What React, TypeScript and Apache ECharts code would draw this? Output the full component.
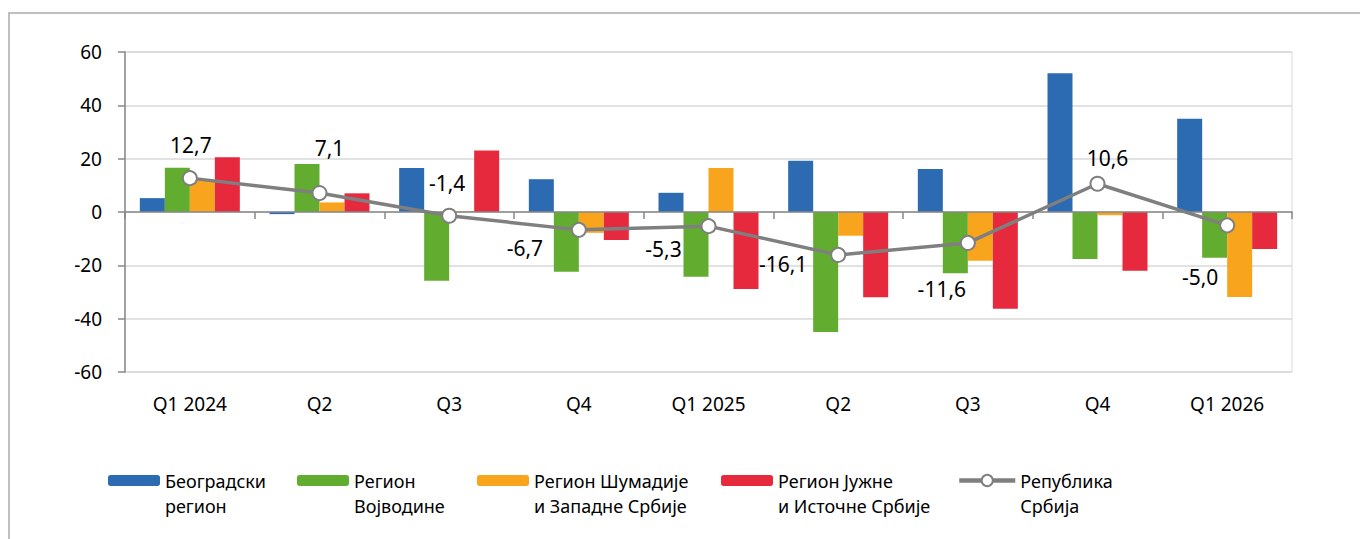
import React, { useEffect, useRef } from "react";
import * as echarts from "echarts";

const categories = ["Q1 2024", "Q2", "Q3", "Q4", "Q1 2025", "Q2", "Q3", "Q4", "Q1 2026"];
const seriesNames = [
  "Београдски регион",
  "Регион Војводине",
  "Регион Шумадије и Западне Србије",
  "Регион Јужне и Источне Србије",
  "Република Србија",
];
const legendLabels = [
  "Београдски\nрегион",
  "Регион\nВојводине",
  "Регион Шумадије\nи Западне Србије",
  "Регион Јужне\nи Источне Србије",
  "Република\nСрбија",
];
const belgrade = [5.2, -0.8, 16.5, 12.3, 7.2, 19.2, 16.1, 52.0, 35.0];
const vojvodina = [16.6, 18.0, -25.8, -22.4, -24.3, -45.0, -23.0, -17.6, -17.2];
const sumadija = [12.0, 3.6, 0.3, -7.8, 16.5, -8.9, -18.3, -1.2, -31.9];
const juzna = [20.5, 7.0, 23.1, -10.5, -28.9, -32.0, -36.3, -22.0, -13.9];
const serbia = [12.7, 7.1, -1.4, -6.7, -5.3, -16.1, -11.6, 10.6, -5.0];
const yTicks = { min: -60, max: 60, interval: 20 };

// label placement offsets (style, not data)
const labelOffsets: [number, number][] = [
  [1, -33], [10, -45], [-2, -33], [-54, 18], [-45, 23], [-55, 9], [-26, 46], [10, -26], [-27, 52],
];
const barColors = ["#2C6BB2", "#62AD2F", "#F8A51D", "#E6293D"];
const lineColor = "#7F7F7F";
const legendLefts = [108, 297, 477, 721, 957];
const FONT = "'Noto Sans', 'DejaVu Sans', sans-serif";

export default function App() {
  const ref = useRef<HTMLDivElement>(null);
  useEffect(() => {
    if (!ref.current) return;
    const chart = echarts.init(ref.current, undefined, { renderer: "svg" });
    const barData = [belgrade, vojvodina, sumadija, juzna];
    const bars = barData.map((d, i) => ({
      name: seriesNames[i],
      type: "bar",
      xAxisIndex: 0,
      data: d,
      barWidth: 25,
      barGap: "0%",
      itemStyle: { color: barColors[i] },
      z: 2,
    }));
    const line = {
      name: seriesNames[4],
      type: "line",
      xAxisIndex: 0,
      data: serbia.map((v, i) => ({
        value: v,
        label: { offset: labelOffsets[i] },
      })),
      symbol: "emptyCircle",
      symbolSize: 14,
      color: lineColor,
      lineStyle: { color: lineColor, width: 3.5 },
      itemStyle: { color: lineColor, borderColor: lineColor, borderWidth: 3 },
      label: {
        show: true,
        position: "inside",
        fontSize: 21,
        fontFamily: FONT,
        color: "#000",
        formatter: (p: any) => Number(p.value).toFixed(1).replace(".", ","),
      },
      z: 5,
    };
    const legends = seriesNames.map((n, i) => ({
      data: [n],
      left: legendLefts[i],
      top: 443,
      orient: "horizontal",
      itemWidth: i === 4 ? 56 : 52,
      itemHeight: i === 4 ? 14 : 11,
      itemGap: 0,
      padding: 0,
      lineStyle: { width: 4.5 },
      itemStyle: { borderWidth: 3.5 },
      formatter: () => "\n" + legendLabels[i],
      textStyle: {
        fontSize: 18,
        fontFamily: FONT,
        color: "#000",
        lineHeight: 25,
      },
    }));
    chart.setOption({
      animation: false,
      textStyle: { fontFamily: FONT },
      grid: {
        left: 125,
        right: 68,
        top: 52,
        bottom: 167,
        show: true,
        borderColor: "#D9D9D9",
        borderWidth: 1,
        containLabel: false,
      },
      legend: legends,
      xAxis: [
        {
          type: "category",
          data: categories,
          position: "bottom",
          axisLine: { show: false, onZero: false },
          axisTick: { show: false },
          axisLabel: { fontSize: 19, color: "#000", margin: 22, fontFamily: FONT },
        },
        {
          type: "category",
          data: categories,
          position: "bottom",
          axisLine: { show: true, onZero: true, lineStyle: { color: "#898989", width: 1.5 } },
          axisTick: { show: true, length: 7, lineStyle: { color: "#898989", width: 1.5 } },
          axisLabel: { show: false },
          z: 3,
        },
      ],
      yAxis: {
        type: "value",
        min: yTicks.min,
        max: yTicks.max,
        interval: yTicks.interval,
        axisLine: { show: true, lineStyle: { color: "#898989", width: 1.5 } },
        axisTick: { show: true, length: 7, lineStyle: { color: "#898989", width: 1.5 } },
        splitLine: { lineStyle: { color: "#D9D9D9", width: 1.5 } },
        axisLabel: { fontSize: 19, color: "#000", margin: 23, fontFamily: FONT },
      },
      graphic: [
        {
          type: "rect",
          shape: { x: 9, y: 13, width: 1500, height: 700 },
          style: { fill: "none", stroke: "#BFBFBF", lineWidth: 2 },
          silent: true,
        },
      ],
      series: [...bars, line],
    });
    return () => chart.dispose();
  }, []);
  return (
    <div
      ref={ref}
      style={{ position: "fixed", left: 0, top: 0, width: 1360, height: 539, background: "#fff" }}
    />
  );
}
